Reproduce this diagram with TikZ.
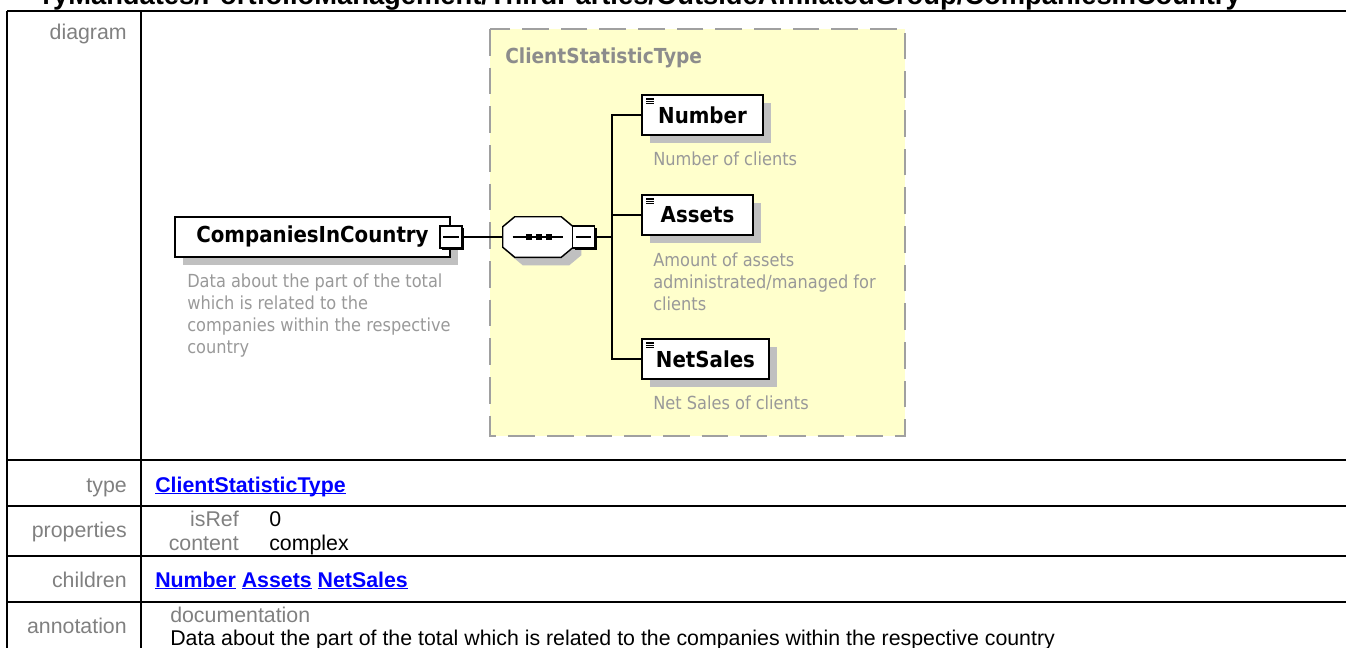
\documentclass[tikz,border=0pt]{standalone}
\usepackage{fontspec}
\setmainfont{Liberation Sans}
\newfontfamily\diafont[BoldFont={DejaVu Sans Condensed Bold}]{DejaVu Sans Condensed}
\usetikzlibrary{positioning}
\definecolor{typefill}{HTML}{FFFFCC}
\definecolor{typedash}{HTML}{A0A0A0}
\definecolor{typegray}{HTML}{8C8C8C}
\definecolor{shade}{HTML}{C0C0C0}
\definecolor{docgray}{HTML}{999999}
\definecolor{labelgray}{HTML}{808080}
\definecolor{linkblue}{HTML}{0000FF}
\newcommand\linkul[1]{\setbox0\hbox{#1}\rlap{\rule[-1.8pt]{\wd0}{1.1pt}}\box0\relax}

\begin{document}
\begin{tikzpicture}[x=0.75pt,y=-0.75pt,
  shadowed/.style={preaction={fill=shade,transform canvas={xshift=6pt,yshift=-6pt}}},
  elem/.style={draw,fill=white,line width=1.1pt,shadowed,minimum height=30pt,inner sep=0pt,
    font=\diafont\bfseries\fontsize{16.5}{19}\selectfont},
  subelem/.style={elem,path picture={\foreach \dy in {3,4.8,6.6}
    \draw[line width=0.8pt] ([xshift=3pt,yshift=-\dy pt]path picture bounding box.north west) -- ++(6pt,0);}},
  collapse/.style={draw,fill=white,line width=1.1pt,minimum size=16.5pt,inner sep=0pt,
    preaction={fill=black,transform canvas={xshift=1.5pt,yshift=-1.5pt}},
    path picture={\draw[line width=1pt] ([xshift=2.5pt]path picture bounding box.west) -- ([xshift=-2.5pt]path picture bounding box.east);}},
  doc/.style={anchor=north west,align=left,text=docgray,inner sep=0pt,
    font=\diafont\fontsize{13.5}{16.3}\selectfont},
  conn/.style={line width=1.1pt},
  tablerule/.style={line width=1.5pt},
  tabletext/.style={inner sep=0pt,font=\fontsize{16}{19}\selectfont},
  rowlabel/.style={tabletext,anchor=base east,text=labelgray},
  cell/.style={tabletext,anchor=base west},
  link/.style={cell,text=linkblue,font=\fontsize{16}{19}\selectfont\bfseries}]
  \useasboundingbox (0,0) rectangle (1346,647);
  \clip (0,0) rectangle (1346,647);
  \node[anchor=base east,inner sep=0pt,font=\bfseries\fontsize{20.5}{24}\selectfont] (title) at (1241,4)
    {ryMandates/PortfolioManagement/ThirdParties/OutsideAffiliatedGroup/CompaniesInCountry};
  \foreach \y in {11,460,506,556,602}
    \draw[tablerule] (7,\y) -- (1350,\y);
  \foreach \x in {7,141}
    \draw[tablerule] (\x,11) -- (\x,650);

  \draw[typedash,fill=typefill,line width=1.5pt,dash pattern=on 20pt off 9pt] (490,29) rectangle (905,436);
  \node[anchor=base west,inner sep=0pt,text=typegray,font=\diafont\bfseries\fontsize{15.5}{18}\selectfont] (typename) at (505,63) {ClientStatisticType};

  \node[elem,minimum width=206.25pt] (cic) at (312.5,237) {CompaniesInCountry};
  \node[collapse] (cicx) at (451,237) {};
  \node[doc] (cicdoc) at (187,274) {Data about the part of the total\\which is related to the\\companies within the respective\\country};

  \node[minimum width=52.5pt,minimum height=30pt,inner sep=0pt] (seq) at (538,237) {};
  \draw[fill=white,line width=1.1pt,shadowed] ([xshift=9pt]seq.north west) -- ([xshift=-9pt]seq.north east)
    -- ([yshift=-7.5pt]seq.north east) -- ([yshift=7.5pt]seq.south east) -- ([xshift=-9pt]seq.south east)
    -- ([xshift=9pt]seq.south west) -- ([yshift=7.5pt]seq.south west) -- ([yshift=-7.5pt]seq.north west) -- cycle;
  \draw[line width=1.1pt] ([xshift=7.5pt]seq.west) -- ([xshift=-7.5pt]seq.east);
  \foreach \x in {529,539,549}
    \fill (\x-3,234) rectangle (\x+3,240);
  \node[collapse] (seqx) at (583.5,237) {};
  \coordinate (fork) at (612,237);

  \node[subelem,minimum width=90.75pt] (number) at (702.5,115) {Number};
  \node[doc] (numberdoc) at (653,152) {Number of clients};
  \node[subelem,minimum width=83.25pt] (assets) at (697.5,215) {Assets};
  \node[doc] (assetsdoc) at (653,253) {Amount of assets\\administrated/managed for\\clients};
  \node[subelem,minimum width=95.25pt] (netsales) at (705.5,359) {NetSales};
  \node[doc] (netsalesdoc) at (653,396) {Net Sales of clients};

  \draw[conn] (cicx.east) -- (seq.west);
  \draw[conn] (seqx.east) -- (fork);
  \draw[conn] (fork) |- (number.west);
  \draw[conn] (fork) |- (assets.west);
  \draw[conn] (fork) |- (netsales.west);

  \node[rowlabel] (diagramlbl) at (127,39) {diagram};
  \node[rowlabel] (typelbl) at (127,492) {type};
  \node[link] (typelink) at (155,492) {\linkul{ClientStatisticType}};
  \node[rowlabel] (proplbl) at (127,537) {properties};
  \node[rowlabel] (isreflbl) at (239,526) {isRef};
  \node[cell] (isrefval) at (269,526) {0};
  \node[rowlabel] (contentlbl) at (239,550) {content};
  \node[cell] (contentval) at (269,550) {complex};
  \node[rowlabel] (childlbl) at (127,587) {children};
  \node[link] (childlinks) at (155,587) {\linkul{Number} \linkul{Assets} \linkul{NetSales}};
  \node[rowlabel] (annlbl) at (127,633) {annotation};
  \node[cell,text=labelgray] (doclbl) at (170,622) {documentation};
  \node[cell] (annval) at (170,645) {Data about the part of the total which is related to the companies within the respective country};
\end{tikzpicture}
\end{document}
